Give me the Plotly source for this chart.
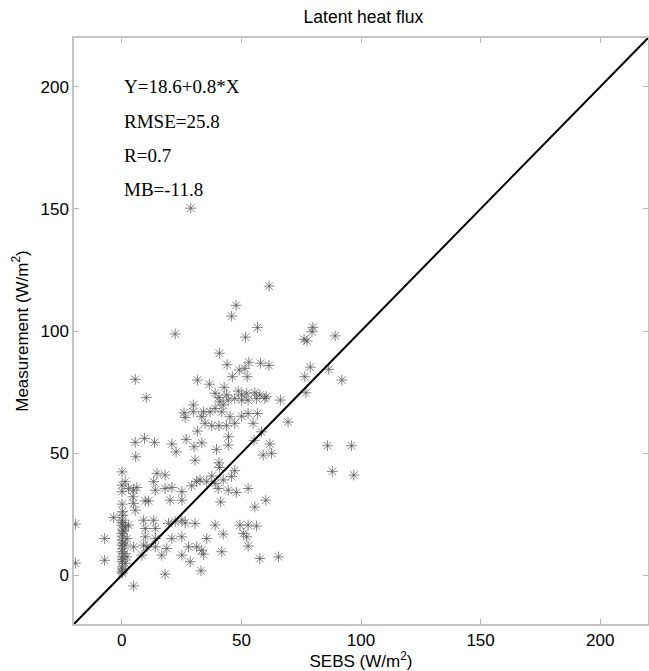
import plotly.graph_objects as go

sebs = [
    61.6, 47.8, 45.9, 56.7, 51.7, 22.3, 40.8, 44.0, 53.1, 58.0, 61.5, 49.1, 51.5, 46.2, 52.4,
    5.6, 31.6, 36.6, 42.8, 10.2, 39.0, 40.6, 43.8, 48.7, 50.1, 52.2, 55.6, 57.7, 60.4, 41.0,
    42.4, 44.5, 47.2, 50.1, 52.8, 56.3, 59.8, 26.0, 29.9, 34.1, 26.5, 29.9, 33.4, 36.9, 39.0,
    41.8, 45.2, 50.1, 52.8, 56.7, 34.8, 37.6, 40.6, 43.8, 47.2, 54.9, 58.4, 31.6, 44.6, 26.9,
    33.4, 44.5, 61.9, 55.3, 5.6, 9.5, 13.7, 20.9, 22.7, 30.2, 39.6, 5.8, 59.1, 62.6, 30.6,
    40.6, 40.8, 0.1, 14.7, 18.1, 1.4, 0.1, 13.3, 37.6, 47.2, 31.3, 32.7, 35.5, 39.0, 42.4,
    45.9, 2.8, 4.9, 6.3, 0.1, 14.0, 18.1, 20.9, 25.1, 29.2, 40.3, 44.5, 47.9, 52.8, 4.6,
    9.8, 11.2, 20.2, 25.1, 41.3, 0.1, 4.9, 5.6, -3.4, 0.1, 0.1, 1.4, 2.8, 9.1, 13.3,
    9.8, 14.0, 19.5, 22.3, 25.1, 26.5, 30.6, 39.0, 49.4, 52.8, 56.3, 60.2, 55.6, 0.1, 0.1,
    2.2, 9.8, 14.0, 20.9, 25.1, 35.5, 42.4, 50.8, 52.2, -7.2, 0.1, 1.4, 4.9, 9.1, 10.5,
    14.0, 18.8, 27.9, 31.3, 33.4, 52.8, 0.1, 0.1, 2.2, 8.4, 16.7, 25.1, 34.1, 41.8, 57.7,
    -7.2, 0.1, 0.1, 1.4, 28.6, 0.1, 18.1, 33.1, 4.9, -19.4, -19.4, 28.8,
    79.9, 79.5, 76.2, 77.4, 89.2, 78.8, 86.5, 76.5, 92.0, 77.0, 66.3, 69.5,
    86.0, 96.0, 88.0, 97.0, 65.5,
    0.2, 0.3, 0.2, 0.4, 0.2, 0.3, 0.2, 0.4, 0.3, 0.2, 1.0, 0.8,
]
measurement = [
    118.4, 110.5, 106.1, 101.4, 97.5, 98.8, 90.9, 86.2, 87.2, 86.8, 85.9, 84.0, 84.7, 81.3, 81.3,
    80.2, 79.9, 78.2, 76.9, 72.7, 74.5, 72.8, 73.8, 75.4, 73.8, 74.5, 74.7, 73.8, 73.1, 71.0,
    69.7, 71.7, 72.4, 71.7, 71.7, 72.4, 72.4, 66.5, 66.9, 66.9, 64.6, 69.7, 64.9, 66.9, 68.3,
    66.9, 64.9, 65.1, 66.2, 66.2, 62.2, 61.2, 61.2, 61.2, 62.2, 62.2, 58.7, 59.0, 56.7, 55.6,
    54.2, 53.3, 53.7, 55.2, 54.4, 56.0, 54.4, 53.7, 50.5, 52.6, 51.5, 48.5, 49.2, 49.9, 47.1,
    46.0, 44.1, 42.3, 41.7, 41.0, 38.3, 36.9, 38.3, 40.6, 42.8, 38.3, 39.0, 38.3, 37.6, 39.0,
    40.4, 35.5, 34.8, 35.9, 34.2, 34.8, 35.5, 35.9, 34.2, 36.6, 35.5, 34.8, 33.9, 35.5, 32.1,
    30.4, 30.4, 30.7, 30.7, 30.0, 29.1, 29.4, 26.6, 23.6, 22.5, 20.5, 19.8, 20.5, 22.5, 22.5,
    19.1, 19.1, 21.2, 21.9, 22.5, 21.4, 21.2, 20.5, 20.5, 20.5, 20.1, 30.7, 27.9, 17.1, 14.3,
    15.0, 15.7, 15.0, 15.0, 15.7, 15.0, 16.8, 17.1, 15.7, 15.0, 12.3, 12.3, 11.6, 12.3, 11.6,
    11.6, 10.9, 11.6, 11.6, 10.2, 11.9, 9.6, 7.5, 7.5, 8.2, 8.2, 8.2, 8.6, 9.6, 6.8,
    6.1, 5.5, 3.4, 4.8, 5.5, 1.4, 0.4, 1.8, -4.4, 20.9, 4.9, 150.3,
    101.5, 99.7, 96.6, 95.9, 98.0, 85.2, 84.3, 81.3, 79.9, 74.7, 71.7, 62.7,
    53.0, 53.0, 42.5, 41.0, 7.5,
    2.5, 6.5, 10.8, 13.2, 16.0, 18.5, 21.5, 24.5, 26.0, 0.8, 8.8, 18.0,
]

# 1:1 line endpoints (axis limits)
line_x = [-20, 220]
line_y = [-20, 220]

tick_vals = [0, 50, 100, 150, 200]

stat_labels = ["Y=18.6+0.8*X", "RMSE=25.8", "R=0.7", "MB=-11.8"]
stat_y = [200, 186, 172, 158]

fig = go.Figure()
fig.add_trace(go.Scatter(
    x=sebs, y=measurement, mode="markers",
    marker=dict(symbol="asterisk-open", size=9, color="rgba(80,80,80,0.7)",
                line=dict(color="rgba(80,80,80,0.7)", width=1)),
    showlegend=False, hoverinfo="skip"))
fig.add_trace(go.Scatter(
    x=line_x, y=line_y, mode="lines",
    line=dict(color="black", width=2), showlegend=False, hoverinfo="skip"))

for lab, yy in zip(stat_labels, stat_y):
    fig.add_annotation(x=0, y=yy, xref="x", yref="y", text=lab, showarrow=False,
                       xanchor="left", yanchor="middle",
                       font=dict(family="Liberation Serif", size=19, color="black"))

axis_common = dict(
    range=[-20, 220], tickvals=tick_vals, ticks="inside", ticklen=5,
    tickcolor="#b8b8b8", showline=True, linecolor="#c4c4c4", linewidth=1.5,
    mirror="ticks", showgrid=False, zeroline=False, automargin=False,
    tickfont=dict(family="Liberation Sans", size=17, color="black"),
)

fig.update_layout(
    width=649, height=671,
    margin=dict(l=74, r=1, t=38, b=47),
    paper_bgcolor="white", plot_bgcolor="white",
    title=dict(text="Latent heat flux", x=0.56, xanchor="center", y=0.975,
               yanchor="middle",
               font=dict(family="Liberation Sans", size=17.5, color="black")),
    xaxis=dict(**axis_common,
               title=dict(text="SEBS (W/m<sup>2</sup>)", standoff=2,
                          font=dict(family="Liberation Sans", size=17, color="black"))),
    yaxis=dict(**axis_common,
               title=dict(text="Measurement (W/m<sup>2</sup>)", standoff=8,
                          font=dict(family="Liberation Sans", size=17, color="black"))),
)

fig.write_html("out.html", config={"displayModeBar": False},
               post_script="document.body.style.margin='0';")
